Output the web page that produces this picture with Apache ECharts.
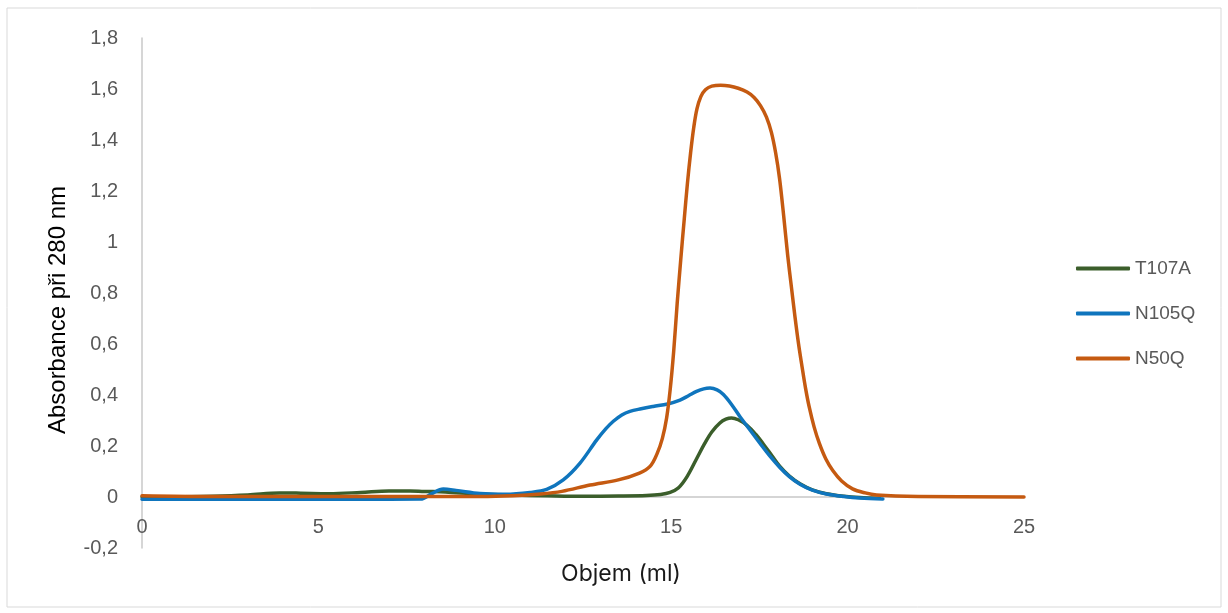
<!DOCTYPE html>
<html>
<head>
<meta charset="utf-8">
<script src="https://cdn.jsdelivr.net/npm/echarts@6/dist/echarts.min.js"></script>
<style>
  html, body { margin: 0; padding: 0; background: #fff; }
  #chart { width: 1228px; height: 613px; }
</style>
</head>
<body>
<div id="chart"></div>
<script>
// [objem ml, absorbance]
const t107a = [
  [0, 0.0], [1, 0.001], [2, 0.003], [3, 0.008], [3.9, 0.016], [4.5, 0.015],
  [5.3, 0.013], [6.2, 0.018], [7.0, 0.024], [7.6, 0.024], [8.0, 0.022],
  [8.6, 0.02], [9.5, 0.012], [10.5, 0.008], [11.5, 0.005], [12.5, 0.003],
  [13.5, 0.004], [14.3, 0.006], [14.7, 0.01], [14.97, 0.018], [15.2, 0.035],
  [15.45, 0.08], [15.72, 0.15], [15.95, 0.21], [16.15, 0.255], [16.38, 0.29],
  [16.55, 0.305], [16.71, 0.31], [16.9, 0.303], [17.14, 0.282], [17.4, 0.245],
  [17.61, 0.208], [17.85, 0.163], [18.08, 0.12], [18.35, 0.082], [18.65, 0.052],
  [19.0, 0.028], [19.4, 0.013], [19.9, 0.003], [20.35, -0.002], [20.9, -0.005]
];
const n105q = [
  [0, -0.009], [2, -0.009], [4, -0.009], [6, -0.009], [7.9, -0.008],
  [8.2, 0.012], [8.54, 0.031], [8.9, 0.026], [9.58, 0.014], [10.3, 0.011],
  [11.0, 0.018], [11.47, 0.03], [11.94, 0.067], [12.41, 0.132], [12.89, 0.224],
  [13.15, 0.268], [13.36, 0.297], [13.6, 0.322], [13.83, 0.336], [14.15, 0.346],
  [14.49, 0.355], [14.9, 0.365], [15.25, 0.38], [15.5, 0.398], [15.72, 0.414],
  [15.92, 0.424], [16.1, 0.427], [16.3, 0.42], [16.48, 0.402], [16.7, 0.365],
  [16.95, 0.315], [17.25, 0.26], [17.52, 0.21], [17.8, 0.16], [18.08, 0.116],
  [18.35, 0.08], [18.65, 0.05], [19.0, 0.027], [19.4, 0.012], [19.9, 0.002],
  [20.35, -0.004], [21.0, -0.008]
];
const n50q = [
  [0, 0.005], [2, 0.002], [4, 0.002], [6, 0.002], [8, 0.002], [9.6, 0.002],
  [10.5, 0.005], [11.3, 0.012], [11.9, 0.022], [12.7, 0.047], [13.5, 0.067],
  [14.1, 0.094], [14.4, 0.12], [14.6, 0.17], [14.75, 0.23], [14.87, 0.31],
  [14.97, 0.42], [15.07, 0.57], [15.17, 0.76], [15.27, 0.93], [15.37, 1.09],
  [15.46, 1.23], [15.55, 1.35], [15.64, 1.45], [15.73, 1.522], [15.84, 1.57],
  [15.97, 1.597], [16.15, 1.611], [16.4, 1.615], [16.65, 1.612], [16.9, 1.603],
  [17.15, 1.588], [17.35, 1.567], [17.53, 1.535], [17.7, 1.49], [17.84, 1.43],
  [17.96, 1.35], [18.07, 1.25], [18.19, 1.1], [18.3, 0.95], [18.41, 0.82],
  [18.51, 0.705], [18.61, 0.6], [18.71, 0.51], [18.81, 0.425], [18.91, 0.354],
  [19.05, 0.275], [19.2, 0.21], [19.38, 0.15], [19.58, 0.104], [19.83, 0.063],
  [20.14, 0.032], [20.5, 0.016], [20.82, 0.008], [22, 0.002], [25, 0.0]
];
const seriesNames = ["T107A", "N105Q", "N50Q"];
const seriesColors = ["#3b5e2b", "#0f75bd", "#c55a11"];

const chart = echarts.init(document.getElementById("chart"));

const fmt = (v) => String(Math.round(v * 10) / 10).replace(".", ",");

const makeLine = (name, data, color) => ({
  name,
  type: "line",
  data,
  smooth: 0.35,
  showSymbol: false,
  symbol: "none",
  lineStyle: { color, width: 3.5, cap: "round", join: "round" },
  itemStyle: { color },
  animation: false,
});

chart.setOption({
  color: seriesColors,
  graphic: [
    {
      type: "rect",
      shape: { x: 7, y: 8, width: 1214, height: 599 },
      style: { fill: "none", stroke: "#d9d9d9", lineWidth: 1 },
      silent: true,
    },
  ],
  grid: { left: 142, right: 204, top: 38, bottom: 65, outerBoundsMode: "none", containLabel: false },
  legend: {
    orient: "vertical",
    left: 1076,
    top: 259,
    padding: 0,
    itemWidth: 54,
    itemHeight: 4,
    itemGap: 26,
    icon: "roundRect",
    data: seriesNames,
    textStyle: { fontFamily: "Liberation Sans, Arial", fontSize: 19, color: "#595959" },
  },
  xAxis: {
    type: "value",
    min: 0,
    max: 25,
    interval: 5,
    offset: -51,
    name: "Objem (ml)",
    nameLocation: "middle",
    nameGap: 66,
    nameTextStyle: { fontFamily: "Inter, Noto Sans", fontSize: 23, color: "#1a1a1a", padding: [0, 0, 0, 76] },
    axisLine: { onZero: false, lineStyle: { color: "#c8c8c8", width: 1.5 } },
    axisTick: { show: false },
    splitLine: { show: false },
    axisLabel: {
      margin: 20,
      fontFamily: "Liberation Sans, Arial",
      fontSize: 20,
      color: "#595959",
    },
  },
  yAxis: {
    type: "value",
    min: -0.2,
    max: 1.8,
    interval: 0.2,
    name: "Absorbance při 280 nm",
    nameLocation: "middle",
    nameGap: 72,
    nameTextStyle: { fontFamily: "Liberation Sans, Arial", fontSize: 24, color: "#000", padding: [0, 34, 0, 0] },
    axisLine: { show: true, onZero: false, lineStyle: { color: "#c8c8c8", width: 1.5 } },
    axisTick: { show: false },
    splitLine: { show: false },
    axisLabel: {
      margin: 24,
      fontFamily: "Liberation Sans, Arial",
      fontSize: 20,
      color: "#595959",
      formatter: fmt,
    },
  },
  series: [
    makeLine(seriesNames[0], t107a, seriesColors[0]),
    makeLine(seriesNames[1], n105q, seriesColors[1]),
    makeLine(seriesNames[2], n50q, seriesColors[2]),
  ],
});
</script>
</body>
</html>
